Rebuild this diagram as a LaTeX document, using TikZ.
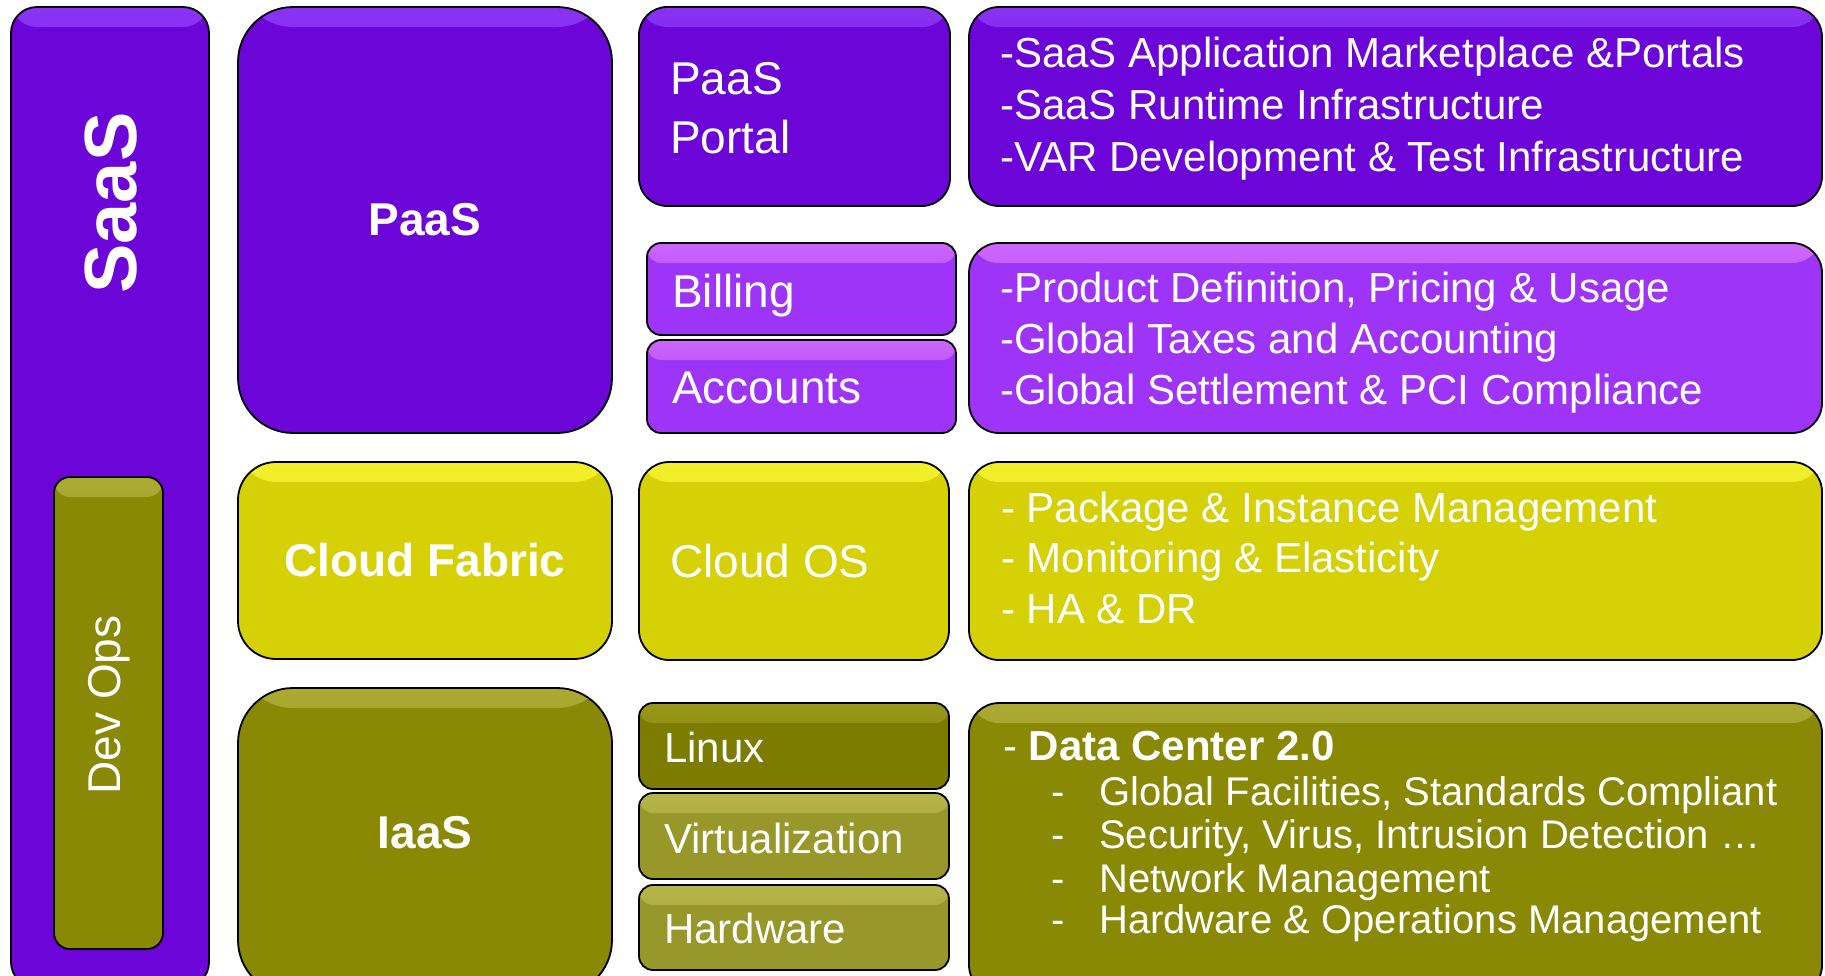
\documentclass[tikz,border=0pt]{standalone}
\usepackage{fontspec}
\setmainfont{Liberation Sans}
\definecolor{purpD}{RGB}{108,6,216}
\definecolor{purpL}{RGB}{158,52,248}
\definecolor{yel}{RGB}{214,208,6}
\definecolor{oliveM}{RGB}{137,137,6}
\definecolor{oliveD}{RGB}{124,124,0}
\definecolor{oliveL}{RGB}{152,152,42}
\definecolor{purpDh}{RGB}{150,70,255}
\definecolor{purpLh}{RGB}{225,125,255}
\definecolor{yelh}{RGB}{255,255,60}
\definecolor{oliveMh}{RGB}{185,185,70}
\definecolor{oliveDh}{RGB}{165,165,40}
\definecolor{oliveLh}{RGB}{195,195,90}
\newcommand\fsz[1]{\fontsize{#1}{#1}\selectfont}
\newcommand\mkbox[7]{%
  \node[box, rounded corners=#6pt, fill=#7, minimum width={(#4-#2)*1pt},
        minimum height={(#5-#3)*1pt},
        path picture={\shade[top color=#7h!70!#7, bottom color=#7]
          ([yshift=2pt]path picture bounding box.north west) rectangle
          ([yshift=-20pt]path picture bounding box.north east);}]
        (#1) at ({(#2+#4)/2},{(#3+#5)/2}) {};}
\tikzset{
  box/.style={draw=black, line width=1.8pt, inner sep=0pt, outer sep=0pt},
  lbl/.style={text=white, inner sep=0pt, anchor=base west},
  big/.style={text=white, inner sep=0pt, font=\fsz{46}\bfseries},
  side/.style={lbl, font=\fsz{46}},
  item/.style={lbl, font=\fsz{42}},
  sub/.style={lbl, font=\fsz{40}},
}
\begin{document}
\begin{tikzpicture}[x=1pt,y=-1pt]
\useasboundingbox (0,0) rectangle (1825,975);
\clip (0,0) rectangle (1825,975);
\fill[white] (0,0) rectangle (1825,975);

\mkbox{saas}{11}{7}{209}{988}{26}{purpD}
\mkbox{devops}{54}{477}{163}{949}{16}{oliveM}
\mkbox{paas}{238}{7}{612}{433}{55}{purpD}
\mkbox{fabric}{238}{462}{612}{659}{38}{yel}
\mkbox{iaas}{238}{688}{612}{995}{55}{oliveM}
\mkbox{portal}{639}{7}{950}{206}{28}{purpD}
\mkbox{billing}{647}{243}{956}{335}{14}{purpL}
\mkbox{accounts}{647}{340}{956}{433}{14}{purpL}
\mkbox{cloudos}{639}{462}{949}{660}{30}{yel}
\mkbox{linux}{639}{703}{949}{789}{14}{oliveD}
\mkbox{virt}{639}{793}{949}{879}{14}{oliveL}
\mkbox{hw}{639}{885}{949}{970}{14}{oliveL}
\mkbox{d1}{969}{7}{1822}{206}{30}{purpD}
\mkbox{d2}{969}{243}{1822}{433}{30}{purpL}
\mkbox{d3}{969}{462}{1822}{660}{30}{yel}
\mkbox{d4}{969}{703}{1822}{995}{30}{oliveM}

% vertical labels
\node[text=white, inner sep=0pt, rotate=90, font=\fsz{74}\bfseries] (tsaas) at (111,203) {SaaS};
\node[text=white, inner sep=0pt, rotate=90, font=\fsz{46}] (tdev) at (109,705) {Dev Ops};

% big labels
\node[big] (tpaas) at (425,220) {PaaS};
\node[big] (tfab) at (425,560) {Cloud Fabric};
\node[big] (tiaas) at (425,833) {IaaS};

% side labels
\node[side] (tp1) at (670,94) {PaaS};
\node[side] (tp2) at (670,153) {Portal};
\node[side] (tbill) at (672,307) {Billing};
\node[side] (tacc) at (672,403) {Accounts};
\node[side] (tcos) at (670,577) {Cloud OS};
\node[item] (tlin) at (664,762) {Linux};
\node[item] (tvir) at (664,853) {Virtualization};
\node[item] (thw) at (664,943) {Hardware};

% row 1
\node[item] (a1) at (1000,67) {-SaaS Application Marketplace \&Portals};
\node[item] (a2) at (1000,119) {-SaaS Runtime Infrastructure};
\node[item] (a3) at (1000,171) {-VAR Development \& Test Infrastructure};
% row 2
\node[item] (b1) at (1000,302) {-Product Definition, Pricing \& Usage};
\node[item] (b2) at (1000,353) {-Global Taxes and Accounting};
\node[item] (b3) at (1000,404) {-Global Settlement \& PCI Compliance};
% row 3
\node[item] (c1) at (1001,522) {- Package \& Instance Management};
\node[item] (c2) at (1001,572) {- Monitoring \& Elasticity};
\node[item] (c3) at (1001,623) {- HA \& DR};
% row 4
\node[item] (e0) at (1003,760) {- \textbf{Data Center 2.0}};
\node[sub] (e1) at (1051,805) {\makebox[48pt][l]{-}Global Facilities, Standards Compliant};
\node[sub] (e2) at (1051,848) {\makebox[48pt][l]{-}Security, Virus, Intrusion Detection …};
\node[sub] (e3) at (1051,892) {\makebox[48pt][l]{-}Network Management};
\node[sub] (e4) at (1051,933) {\makebox[48pt][l]{-}Hardware \& Operations Management};
\end{tikzpicture}
\end{document}
